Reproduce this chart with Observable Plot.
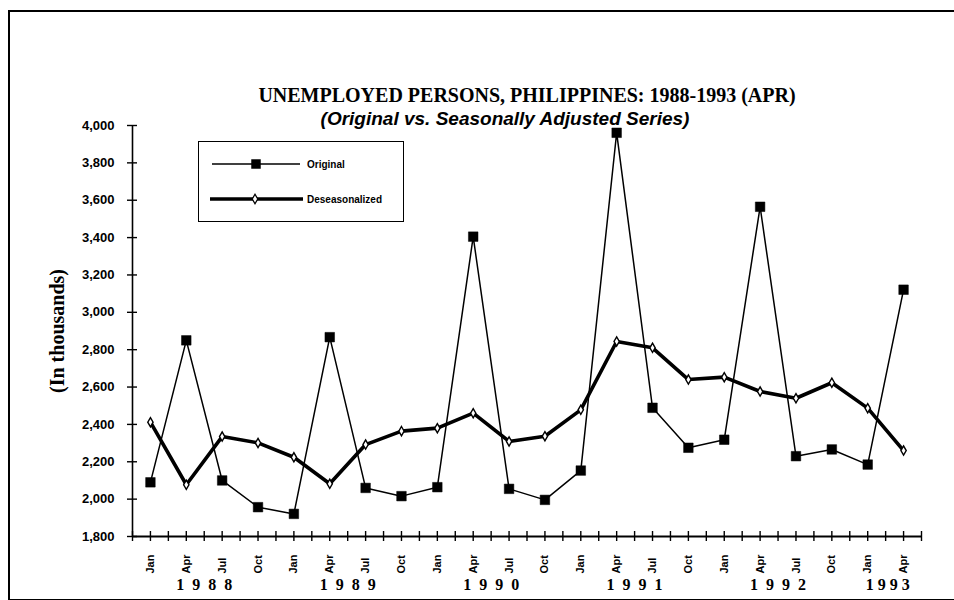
<!DOCTYPE html>
<html>
<head>
<meta charset="utf-8">
<script src="https://cdn.jsdelivr.net/npm/d3@7"></script>
<script src="https://cdn.jsdelivr.net/npm/@observablehq/plot@0.6"></script>
<style>
  html, body { margin: 0; padding: 0; background: #fff; }
  #wrap { position: relative; width: 954px; height: 600px; overflow: hidden; }
  #frame { position: absolute; left: 8px; top: 10px; width: 1100px; height: 587px;
           border-left: 2px solid #000; border-top: 2px solid #000; border-bottom: 2px solid #000; }
  #title { position: absolute; left: 0; width: 1054px; top: 84px; text-align: center;
           font-family: "Liberation Serif", "Times New Roman", serif; font-weight: bold; font-size: 20px; color: #000; }
  #subtitle { position: absolute; left: 0; width: 1010px; top: 108px; text-align: center;
           font-family: "Liberation Sans", Arial, sans-serif;
           font-style: italic; font-weight: bold; font-size: 19px; color: #000; }
  #legend { position: absolute; left: 198px; top: 141px; width: 204px; height: 79px;
            border: 1.5px solid #000; background: #fff; }
  #legend svg { position: absolute; left: 0; top: 0; }
  #chart { position: absolute; left: 0; top: 0; }
</style>
</head>
<body>
<div id="wrap">
  <div id="frame"></div>
  <div id="chart"></div>
  <div id="title">UNEMPLOYED PERSONS, PHILIPPINES: 1988-1993 (APR)</div>
  <div id="subtitle">(Original vs. Seasonally Adjusted Series)</div>
  <div id="legend"></div>
</div>
<script>
// ---- Data (in thousands) ----
const quarters = ["Jan","Apr","Jul","Oct","Jan","Apr","Jul","Oct","Jan","Apr","Jul","Oct",
                  "Jan","Apr","Jul","Oct","Jan","Apr","Jul","Oct","Jan","Apr"];
const quarterYears = [1988,1988,1988,1988,1989,1989,1989,1989,1990,1990,1990,1990,
                      1991,1991,1991,1991,1992,1992,1992,1992,1993,1993];
const original = [2090, 2850, 2100, 1957, 1921, 2867, 2060, 2016, 2064, 3405, 2055, 1996,
                  2153, 3961, 2489, 2275, 2318, 3565, 2230, 2266, 2185, 3121];
const deseasonalized = [2412, 2077, 2335, 2301, 2224, 2082, 2292, 2364, 2380, 2460, 2309, 2337,
                        2478, 2844, 2810, 2640, 2653, 2576, 2540, 2623, 2487, 2260];
const yearLabels = ["1988","1989","1990","1991","1992","1993"];
const yTicks = [1800, 2000, 2200, 2400, 2600, 2800, 3000, 3200, 3400, 3600, 3800, 4000];
const seriesNames = ["Original", "Deseasonalized"];

// ---- Derived tables ----
const idx = quarters.map((q, i) => i);
const origData = idx.map(i => ({i, v: original[i]}));
const desData = idx.map(i => ({i, v: deseasonalized[i]}));
const yearData = yearLabels.map(y => {
  const is = idx.filter(i => String(quarterYears[i]) === y);
  return {label: y, x: d3.mean(is)};
});
const xTicks = d3.range(-0.5, quarters.length - 0.5 + 0.01, 0.5);

const sans = "'Liberation Sans', Arial, sans-serif";
const serif = "'Liberation Serif', 'Times New Roman', serif";

const chart = Plot.plot({
  width: 954,
  height: 600,
  marginTop: 125,
  marginBottom: 64,
  marginLeft: 132,
  marginRight: 33,
  style: {background: "transparent", overflow: "visible"},
  x: {domain: [-0.5, quarters.length - 0.5], axis: null},
  y: {domain: [1800, 4000], axis: null},
  marks: [
    Plot.ruleX([-0.5], {y1: 1800, y2: 4000, stroke: "#000", strokeWidth: 1.6}),
    Plot.ruleY([1800], {x1: -0.5, x2: quarters.length - 0.5, stroke: "#000", strokeWidth: 1.8}),
    Plot.ruleY(yTicks, {x1: -0.5, x2: -0.5, insetLeft: -5, insetRight: -5, stroke: "#000", strokeWidth: 1.4}),
    Plot.ruleX(xTicks, {y1: 1800, y2: 1800, insetTop: -5, insetBottom: -5, stroke: "#000", strokeWidth: 1.4}),
    Plot.text(yTicks, {x: -0.5, y: d => d, text: d => d3.format(",")(d), textAnchor: "end", dx: -18,
      fontSize: 13, fontWeight: "bold", fontFamily: sans, fill: "#000"}),
    Plot.text(quarters, {x: (d, i) => i, y: 1800, text: d => d, rotate: -90, textAnchor: "start",
      dy: 37, fontSize: 11, fontWeight: "bold", fontFamily: sans, fill: "#000"}),
    Plot.text(yearData, {x: "x", y: 1800, text: "label", dy: 48, dx: 4, fontSize: 16, fontWeight: "bold",
      fontFamily: serif, fill: "#000"}),
    Plot.text(["(In thousands)"], {frameAnchor: "left", textAnchor: "middle", text: d => d, rotate: -90, dx: -75,
      fontSize: 20, fontWeight: "bold", fontFamily: serif, fill: "#000"}),
    Plot.line(origData, {x: "i", y: "v", stroke: "#000", strokeWidth: 1.5}),
    Plot.line(desData, {x: "i", y: "v", stroke: "#000", strokeWidth: 3.6}),
    Plot.dot(origData, {x: "i", y: "v", symbol: "square", r: 5.4, fill: "#000", stroke: "#000", strokeWidth: 0.5}),
    Plot.dot(desData, {x: "i", y: "v", symbol: "diamond", r: 2.8, fill: "#fff", stroke: "#000", strokeWidth: 1.4})
  ]
});

d3.select(chart).selectAll("text")
  .filter(function() { return yearLabels.includes(this.textContent); })
  .style("letter-spacing", function() { return this.textContent === "1993" ? "4px" : "8px"; });
document.getElementById("chart").appendChild(chart);

// ---- Legend (inside plot area, as in the reference) ----
const lg = d3.select("#legend").append("svg").attr("width", 206).attr("height", 82);
const sq = d3.symbol(d3.symbolSquare, 90)();
const dm = d3.symbol(d3.symbolDiamond, 26)();
lg.append("line").attr("x1", 13).attr("x2", 101).attr("y1", 22).attr("y2", 22)
  .attr("stroke", "#000").attr("stroke-width", 1.5);
lg.append("path").attr("d", sq).attr("transform", "translate(57,22)").attr("fill", "#000");
lg.append("text").attr("x", 108).attr("y", 26).text(seriesNames[0])
  .attr("font-family", sans).attr("font-weight", "bold").attr("font-size", 10);
lg.append("line").attr("x1", 11).attr("x2", 104).attr("y1", 57).attr("y2", 57)
  .attr("stroke", "#000").attr("stroke-width", 3.6);
lg.append("path").attr("d", dm).attr("transform", "translate(56,57)").attr("fill", "#fff")
  .attr("stroke", "#000").attr("stroke-width", 1.3);
lg.append("text").attr("x", 108).attr("y", 61).text(seriesNames[1])
  .attr("font-family", sans).attr("font-weight", "bold").attr("font-size", 10);
</script>
</body>
</html>
